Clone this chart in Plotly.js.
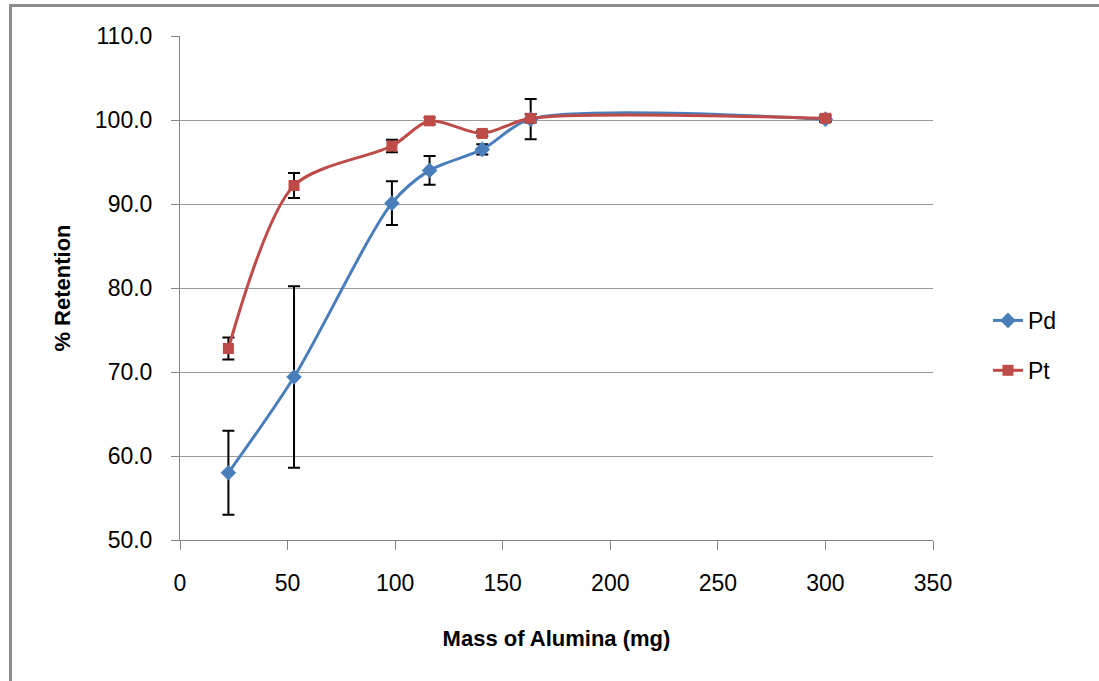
<!DOCTYPE html>
<html>
<head>
<meta charset="utf-8">
<script src="https://cdn.plot.ly/plotly-3.0.1.min.js"></script>
<style>
  html, body { margin: 0; padding: 0; background: #ffffff; }
  #wrap { position: relative; width: 1099px; height: 681px; overflow: hidden; }
  #frame { position: absolute; left: 9px; top: 4px; width: 1200px; height: 800px;
           border-left: 3px solid #8c8c8c; border-top: 3px solid #8c8c8c; box-sizing: border-box; pointer-events: none; z-index: 5; }
  #chart { position: absolute; left: 0; top: 0; width: 1099px; height: 681px; }
</style>
</head>
<body>
<div id="wrap">
  <div id="chart"></div>
  <div id="frame"></div>
</div>
<script>
// Data
const massPd = [22.5, 53, 98.5, 116, 140.5, 163, 300];
const retentionPd = [58.0, 69.4, 90.1, 94.0, 96.5, 100.1, 100.1];
const errorPd = [5.0, 10.8, 2.6, 1.7, 0.6, 2.4, 0.3];

const massPt = [22.5, 53, 98.5, 116, 140.5, 163, 300];
const retentionPt = [72.8, 92.2, 96.9, 99.9, 98.4, 100.2, 100.2];
const errorPt = [1.3, 1.5, 0.75, 0.4, 0.3, 0.5, 0.4];

const yTicks = [50, 60, 70, 80, 90, 100, 110];
const xTicks = [0, 50, 100, 150, 200, 250, 300, 350];

const FONT = '"Liberation Sans", Arial, sans-serif';

const traces = [
  {
    name: 'Pd', x: massPd, y: retentionPd, type: 'scatter', mode: 'lines+markers',
    legendgroup: 'a',
    line: { color: '#4a7ebb', width: 3, shape: 'spline', smoothing: 0.8 },
    marker: { symbol: 'diamond', size: 12, color: '#4a7ebb' },
    error_y: { type: 'data', array: errorPd, visible: true, color: '#000000', thickness: 2, width: 6 }
  },
  {
    name: 'Pt', x: massPt, y: retentionPt, type: 'scatter', mode: 'lines+markers',
    legendgroup: 'b',
    line: { color: '#be4b48', width: 3, shape: 'spline', smoothing: 0.8 },
    marker: { symbol: 'square', size: 11, color: '#be4b48' },
    error_y: { type: 'data', array: errorPt, visible: true, color: '#000000', thickness: 2, width: 6 }
  }
];

const layout = {
  width: 1099, height: 681,
  margin: { l: 180, r: 166, t: 36, b: 141 },
  paper_bgcolor: 'rgba(0,0,0,0)', plot_bgcolor: 'rgba(0,0,0,0)',
  font: { family: FONT, size: 23, color: '#000000' },
  showlegend: true,
  legend: {
    x: 1.073, xanchor: 'left', y: 0.386, yanchor: 'middle',
    traceorder: 'grouped', tracegroupgap: 17,
    font: { family: FONT, size: 23, color: '#000000' },
    bgcolor: 'rgba(0,0,0,0)'
  },
  xaxis: {
    range: [0, 350], tickvals: xTicks, ticktext: xTicks.map(String),
    showgrid: false, zeroline: false,
    showline: true, linecolor: '#868686', linewidth: 1,
    ticks: 'outside', ticklen: 9, tickcolor: '#868686', tickwidth: 1,
    ticklabelstandoff: 13,
    tickfont: { family: FONT, size: 23, color: '#000000' },
    title: { text: '<b>Mass of Alumina (mg)</b>', font: { family: FONT, size: 22, color: '#000000' }, standoff: 36 }
  },
  yaxis: {
    range: [50, 110], tickvals: yTicks, ticktext: yTicks.map(v => v.toFixed(1)),
    showgrid: true, gridcolor: '#9a9a9a', gridwidth: 1, zeroline: false,
    showline: true, linecolor: '#868686', linewidth: 1,
    ticks: 'outside', ticklen: 8, tickcolor: '#868686', tickwidth: 1,
    ticklabelstandoff: 14,
    tickfont: { family: FONT, size: 23, color: '#000000' },
    title: { text: '<b>% Retention</b>', font: { family: FONT, size: 22, color: '#000000' }, standoff: 18 }
  }
};

Plotly.newPlot('chart', traces, layout, { displayModeBar: false, staticPlot: true });
</script>
</body>
</html>
